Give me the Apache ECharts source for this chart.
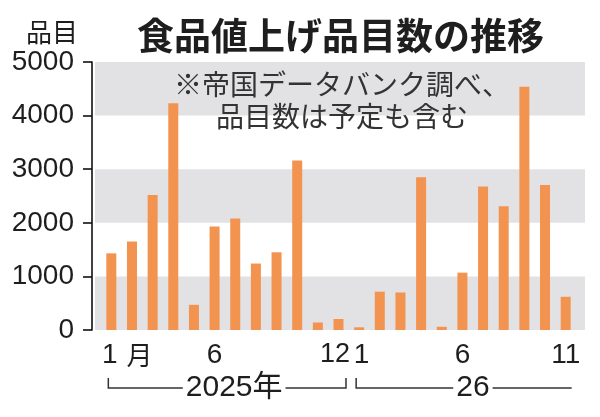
<!DOCTYPE html>
<html><head><meta charset="utf-8">
<script src="https://cdn.jsdelivr.net/npm/echarts@6/dist/echarts.min.js"></script>
<style>html,body{margin:0;padding:0;background:#fff}#c{width:600px;height:417px}</style>
</head><body><div id="c"></div>
<script>
// ---- data ----
const categories = ['2025-1','2025-2','2025-3','2025-4','2025-5','2025-6','2025-7','2025-8','2025-9','2025-10','2025-11','2025-12',
                    '2026-1','2026-2','2026-3','2026-4','2026-5','2026-6','2026-7','2026-8','2026-9','2026-10','2026-11'];
const values2025 = [1430, 1650, 2520, 4230, 470, 1930, 2080, 1240, 1450, 3160, 140, 205];
const values2026 = [50, 715, 700, 2850, 60, 1070, 2675, 2310, 4540, 2705, 620];
const tickLabels = ['1月','','','','','6','','','','','','12','1','','','','','6','','','','','11'];
const yTicks = [0, 1000, 2000, 3000, 4000, 5000];
const titleText = '食品値上げ品目数の推移';
const unitText = '品目';
const noteText = '※帝国データバンク調べ、\n品目数は予定も含む';
const yearLabels = ['2025年', '26'];

const values = values2025.concat(values2026);
const FONT_NUM = '"Liberation Sans", "Noto Sans CJK JP", sans-serif';
const FONT_JP = '"Noto Sans CJK JP", sans-serif';
const INK = '#1e1e1e';

const chart = echarts.init(document.getElementById('c'), null, {renderer: 'canvas'});
const TOP = 62, BOTTOM = 417 - 330;

function xLabel(v, i) {
  const t = tickLabels[i];
  if (!t) return '';
  if (t.length > 1 && /月$/.test(t)) return '{n|' + t.slice(0, -1) + '}{g|月}';
  if (i === 11) return '{s|' + t + '}';
  if (i === 12) return '{r|' + t + '}';
  return t;
}

chart.setOption({
  animation: false,
  backgroundColor: '#fff',
  title: [
    {text: titleText, left: 132, top: 12,
     textStyle: {fontFamily: FONT_JP, fontSize: 37, fontWeight: 'bold', color: INK}},
    {text: unitText, left: 21, top: 14,
     textStyle: {fontFamily: FONT_JP, fontSize: 26, fontWeight: 'normal', color: INK}}
  ],
  grid: [
    {left: 95, right: 15, top: TOP, bottom: BOTTOM},
    {left: 101, right: 24, top: TOP, bottom: BOTTOM}
  ],
  xAxis: [
    {gridIndex: 0, type: 'category', data: ['x'], show: false},
    {gridIndex: 1, type: 'category', data: categories,
     axisLine: {show: false}, axisTick: {show: false},
     axisLabel: {interval: 0, margin: 11, color: INK, fontFamily: FONT_NUM, fontSize: 28,
       formatter: xLabel,
       rich: {
         n: {fontFamily: FONT_NUM, fontSize: 28, color: INK, padding: [0, 0, 0, 32]},
         g: {fontFamily: FONT_JP, fontSize: 26, color: INK, padding: [0, 0, 0, 9]},
         s: {fontFamily: FONT_NUM, fontSize: 27, color: INK, padding: [0, 7, 0, 0]},
         r: {fontFamily: FONT_NUM, fontSize: 28, color: INK, padding: [0, 0, 0, 5]}
       }}}
  ],
  yAxis: [
    {gridIndex: 0, type: 'value', min: yTicks[0], max: yTicks[yTicks.length - 1], interval: 1000, offset: 3,
     axisLine: {show: true, lineStyle: {color: '#111', width: 1.6}},
     axisTick: {show: true, length: 9, lineStyle: {color: '#111', width: 1.6}},
     axisLabel: {margin: 18, color: INK, fontFamily: FONT_NUM, fontSize: 28, padding: [6, 0, 0, 0],
       formatter: v => String(v)},
     splitLine: {show: false},
     splitArea: {show: true, areaStyle: {color: ['#e2e2e4', 'rgba(255,255,255,0)']}}},
    {gridIndex: 1, type: 'value', min: 0, max: 5000, interval: 1000, show: false, splitLine: {show: false}}
  ],
  series: [{
    type: 'bar', xAxisIndex: 1, yAxisIndex: 1, data: values, barWidth: 10,
    itemStyle: {color: '#f29350'}
  }]
});

const px = i => chart.convertToPixel({xAxisIndex: 1}, i);
const a1 = px(0) - 3, b1 = px(11) + 7.5, a2 = px(12) - 3, b2 = px(22) + 6;
const YL = 388, YT = 378;
const lineStyle = {stroke: '#333', lineWidth: 1.5, fill: 'none'};
const yearText = (x, t) => ({type: 'text', x: x, y: YL, z: 10,
  style: {text: t, align: 'center', verticalAlign: 'middle', fontFamily: FONT_NUM, fontSize: 30,
          fill: INK, backgroundColor: '#fff', padding: [0, 3]}});
chart.setOption({graphic: [
  {type: 'polyline', shape: {points: [[a1, YT], [a1, YL], [b1, YL], [b1, YT]]}, style: lineStyle},
  yearText((a1 + b1) / 2 + 7, yearLabels[0]),
  {type: 'polyline', shape: {points: [[a2, YT], [a2, YL], [b2, YL]]}, style: lineStyle},
  yearText((a2 + b2) / 2 + 9, yearLabels[1]),
  {type: 'text', x: 342, y: 68, z: 10,
   style: {text: noteText, align: 'center', verticalAlign: 'top', fontFamily: FONT_JP, fontSize: 28,
           lineHeight: 32, fill: '#333'}}
]});
</script></body></html>
